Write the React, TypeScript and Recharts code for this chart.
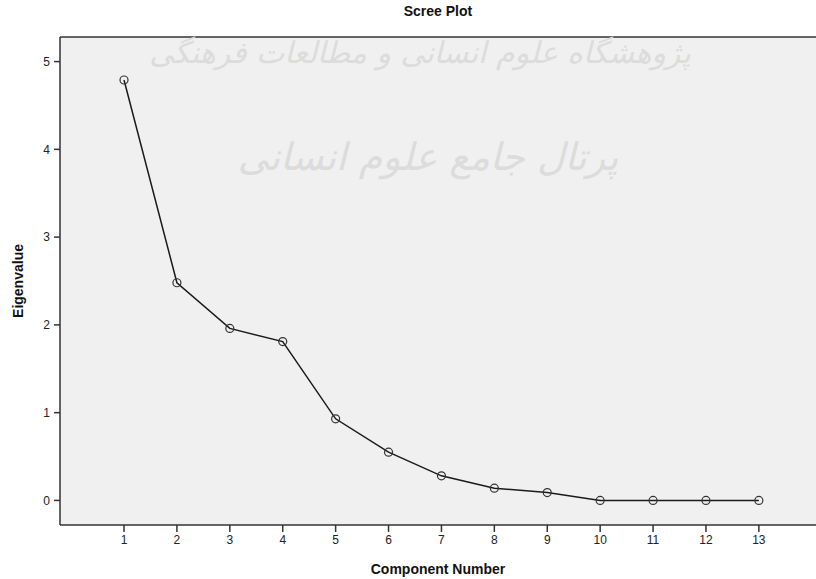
import React from 'react';
import {
  LineChart, Line, XAxis, YAxis, CartesianGrid, ReferenceLine, Label,
} from 'recharts';

// ── Data ──────────────────────────────────────────────────────────────────────

const components = [1, 2, 3, 4, 5, 6, 7, 8, 9, 10, 11, 12, 13];
const eigenvalues = [4.79, 2.48, 1.96, 1.81, 0.93, 0.55, 0.28, 0.14, 0.09, 0.0, 0.0, 0.0, 0.0];
const yTicks = [0, 1, 2, 3, 4, 5];

const data = components.map((c, i) => ({ component: c, eigen: eigenvalues[i] }));

const FONT = '"Liberation Sans", Arial, sans-serif';
const X_DOMAIN: [number, number] = [-0.21, 14.08];
const Y_DOMAIN: [number, number] = [-0.28, 5.28];

const watermarkStyle = {
  fill: '#dcdcdc',
  fontFamily: '"DejaVu Sans", sans-serif',
  fontStyle: 'italic',
};

// ── Chart ─────────────────────────────────────────────────────────────────────

export default function App() {
  return (
    <div style={{ position: 'absolute', left: 0, top: 0, width: 816, height: 579, background: '#fff', overflow: 'hidden' }}>
      <LineChart
        width={816}
        height={579}
        data={data}
        margin={{ top: 37, right: 0, bottom: 0, left: 0 }}
        style={{ fontFamily: FONT }}
      >
        <CartesianGrid fill="#f0f0f0" horizontal={false} vertical={false} />
        {/* faint watermark */}
        <ReferenceLine
          y={5.1}
          stroke="none"
          label={
            <Label
              value="پژوهشگاه علوم انسانی و مطالعات فرهنگی"
              position="center"
              dx={-18}
              style={{ ...watermarkStyle, fontSize: 30 }}
            />
          }
        />
        <ReferenceLine
          y={3.92}
          stroke="none"
          label={
            <Label
              value="پرتال جامع علوم انسانی"
              position="center"
              dx={-10}
              style={{ ...watermarkStyle, fontSize: 38 }}
            />
          }
        />
        <ReferenceLine y={Y_DOMAIN[1]} stroke="#333" strokeWidth={1.5}>
          <Label
            value="Scree Plot"
            position="top"
            offset={21}
            style={{ fill: '#111', fontSize: 14, fontWeight: 'bold', fontFamily: FONT }}
          />
        </ReferenceLine>
        <XAxis
          type="number"
          dataKey="component"
          domain={X_DOMAIN}
          ticks={components}
          allowDataOverflow
          height={54}
          tickSize={7}
          tickMargin={3}
          axisLine={{ stroke: '#333', strokeWidth: 1.5 }}
          tickLine={{ stroke: '#333', strokeWidth: 1.5 }}
          tick={{ fill: '#222', fontSize: 12, fontFamily: FONT }}
        >
          <Label
            value="Component Number"
            position="insideBottom"
            offset={5}
            style={{ fill: '#111', fontSize: 14, fontWeight: 'bold', fontFamily: FONT }}
          />
        </XAxis>
        <YAxis
          type="number"
          domain={Y_DOMAIN}
          ticks={yTicks}
          allowDataOverflow
          width={60}
          tickSize={6}
          tickMargin={4}
          axisLine={{ stroke: '#333', strokeWidth: 1.5 }}
          tickLine={{ stroke: '#333', strokeWidth: 1.5 }}
          tick={{ fill: '#222', fontSize: 12, fontFamily: FONT }}
        >
          <Label
            value="Eigenvalue"
            position="center"
            angle={-90}
            dx={-12}
            style={{ fill: '#111', fontSize: 14, fontWeight: 'bold', fontFamily: FONT, textAnchor: 'middle' }}
          />
        </YAxis>
        <Line
          type="linear"
          dataKey="eigen"
          stroke="#1a1a1a"
          strokeWidth={1.5}
          dot={{ r: 4, stroke: '#333', strokeWidth: 1.2, fill: 'none' }}
          activeDot={false}
          isAnimationActive={false}
        />
      </LineChart>
    </div>
  );
}
